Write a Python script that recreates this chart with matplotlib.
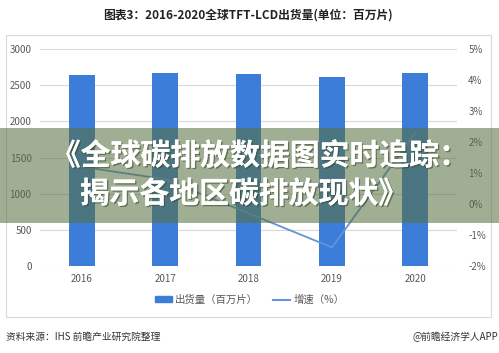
import matplotlib
matplotlib.use("Agg")
import matplotlib.pyplot as plt
import matplotlib.patheffects as pe
from matplotlib.patches import Rectangle, Patch
from matplotlib.lines import Line2D
import numpy as np

plt.rcParams['font.family'] = ['Noto Sans CJK SC', 'DejaVu Sans']

years = ["2016", "2017", "2018", "2019", "2020"]
shipments = [2640, 2670, 2660, 2610, 2670]   # 出货量（百万片）
growth = [1.2, 0.8, -0.3, -1.4, 2.3]         # 增速（%）

bar_color = "#3b7dd8"
line_color = "#6493d8"
grid_color = "#d9d9d9"
tick_color = "#595959"

fig = plt.figure(figsize=(4.99, 3.53), dpi=100)
fig.patch.set_facecolor("white")

# chart frame
fig.add_artist(Rectangle((6 / 499, 1 - 317 / 353), 485 / 499, 282 / 353,
                         transform=fig.transFigure, fill=False,
                         edgecolor="#d9d9d9", linewidth=0.8))

ax = fig.add_axes([0.080, 0.2465, 0.836, 0.6145])
x = np.arange(len(years))
ax.bar(x, shipments, width=0.31, color=bar_color, zorder=2)
ax.set_xlim(-0.5, 4.5)
ax.set_ylim(0, 3000)
ax.set_yticks(range(0, 3001, 500))
ax.set_xticks(x)
ax.set_xticklabels(years)
ax.grid(axis="y", color=grid_color, linewidth=0.8, zorder=0)
for s in ax.spines.values():
    s.set_visible(False)
ax.tick_params(length=0, labelsize=7, colors=tick_color, pad=6)

ax2 = ax.twinx()
ax2.plot(x, growth, color=line_color, linewidth=1.3, zorder=3)
ax2.set_ylim(-2, 5)
ax2.set_yticks(range(-2, 6))
ax2.set_yticklabels([f"{v}%" for v in range(-2, 6)])
for s in ax2.spines.values():
    s.set_visible(False)
ax2.tick_params(length=0, labelsize=7, colors=tick_color, pad=8)

# legend
handles = [Patch(color=bar_color), Line2D([0], [0], color=line_color, linewidth=1.5)]
fig.legend(handles, ["出货量（百万片）", "增速（%）"], loc="center",
           bbox_to_anchor=(0.5, 1 - 300 / 353), ncol=2, frameon=False,
           fontsize=7.5, handlelength=1.6, handleheight=0.5,
           columnspacing=1.5, handletextpad=0.3, labelcolor=tick_color)

fig.text(0.497, 1 - 15 / 353, "图表3：2016-2020全球TFT-LCD出货量(单位：百万片)",
         ha="center", va="center", fontsize=8.5, fontweight="bold", color="#222222")
fig.text(6 / 499, 1 - 337 / 353, "资料来源：IHS 前瞻产业研究院整理",
         ha="left", va="center", fontsize=7, color="#333333")
fig.text(0.998, 1 - 337 / 353, "@前瞻经济学人APP",
         ha="right", va="center", fontsize=7, color="#333333")

# overlay band with headline
fig.add_artist(Rectangle((0, 1 - 223 / 353), 1, 95 / 353, transform=fig.transFigure,
                         facecolor="#566f3e", alpha=0.56, edgecolor="none", zorder=5))
shadow = [pe.withSimplePatchShadow(offset=(1, -1), shadow_rgbFace="#3a4a2c", alpha=0.6), pe.Normal()]
fig.text(260 / 499, 1 - 156 / 353, "《全球碳排放数据图实时追踪：", ha="center", va="center",
         fontsize=21.5, fontweight="heavy", color="white", zorder=6, path_effects=shadow)
fig.text(244 / 499, 1 - 194 / 353, "揭示各地区碳排放现状》", ha="center", va="center",
         fontsize=21.5, fontweight="heavy", color="white", zorder=6, path_effects=shadow)

fig.savefig("out.png", dpi=100)
